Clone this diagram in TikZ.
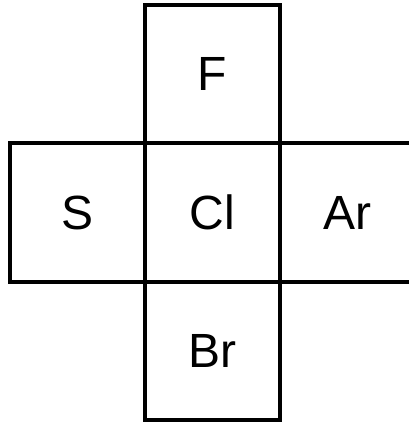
\documentclass[tikz,border=0pt]{standalone}
\usepackage{fontspec}
\setmainfont{Liberation Sans}
\usetikzlibrary{positioning}

\tikzset{
  cell/.style={draw, line width=4pt, outer sep=0pt, inner sep=0pt,
    minimum width=135pt, minimum height=138.5pt,
    font=\fontsize{48}{58}\selectfont}
}

\begin{document}
\begin{tikzpicture}[x=1pt,y=1pt,node distance=0pt]
  \useasboundingbox (0,0) rectangle (408,425);
  \node (cl) [cell] at (212.5,212.5) {Cl};
  \node (f)  [cell, above=of cl] {F};
  \node (br) [cell, below=of cl] {Br};
  \node (s)  [cell, left=of cl] {S};
  \node (ar) [cell, right=of cl] {Ar};
\end{tikzpicture}
\end{document}
